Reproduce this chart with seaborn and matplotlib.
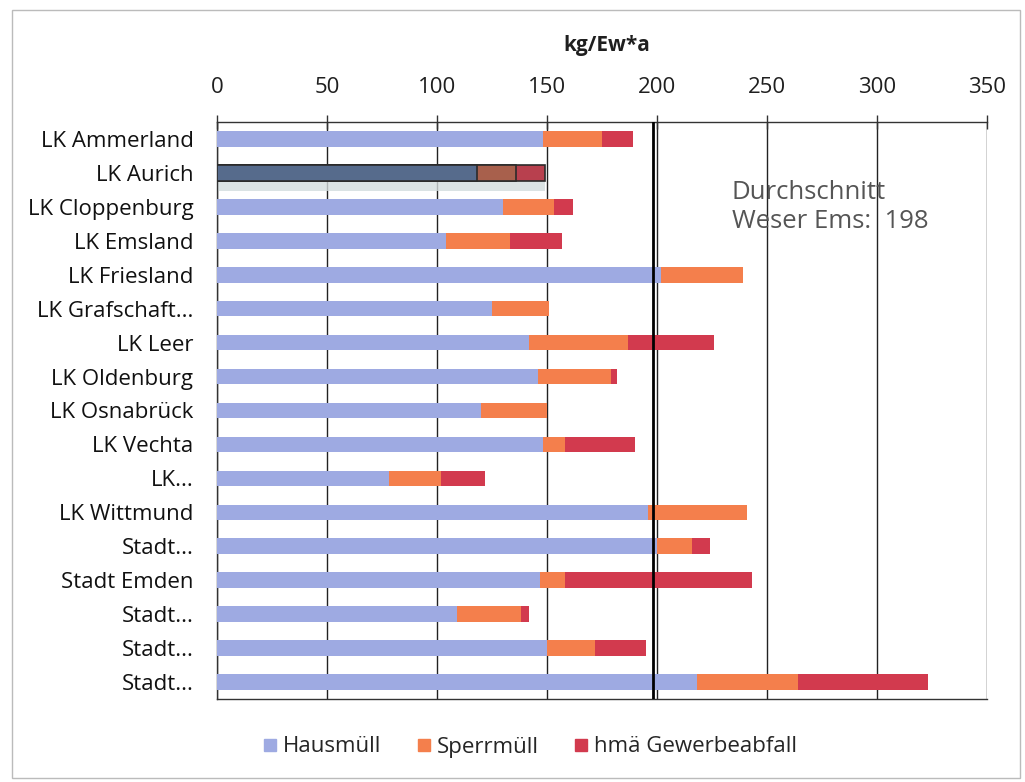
import numpy as np
import pandas as pd
import matplotlib.pyplot as plt
import seaborn as sns
from matplotlib.lines import Line2D
from matplotlib.patches import Rectangle

# -- data (kg per inhabitant and year)
regions = ['LK Ammerland', 'LK Aurich', 'LK Cloppenburg', 'LK Emsland', 'LK Friesland',
           'LK Grafschaft...', 'LK Leer', 'LK Oldenburg', 'LK Osnabrück', 'LK Vechta',
           'LK...', 'LK Wittmund', 'Stadt...', 'Stadt Emden', 'Stadt...', 'Stadt...',
           'Stadt...']
hausmuell = [148, 118, 130, 104, 202, 125, 142, 146, 120, 148, 78, 196, 200, 147, 109, 150, 218]
sperrmuell = [27, 18, 23, 29, 37, 26, 45, 33, 30, 10, 24, 45, 16, 11, 29, 22, 46]
gewerbe = [14, 13, 9, 24, 0, 0, 39, 3, 0, 32, 20, 0, 8, 85, 4, 23, 59]
series = ['Hausmüll', 'Sperrmüll', 'hmä Gewerbeabfall']
colors = ['#9eaae2', '#f47f4c', '#d23a4e']
aurich_colors = ['#566b8c', '#a8604c', '#b8404e']
average = 198

n = len(regions)
df = pd.DataFrame({'pos': [str(i) for i in range(n)], 'H': hausmuell, 'S': sperrmuell, 'G': gewerbe})
df['HS'] = df['H'] + df['S']
df['HSG'] = df['HS'] + df['G']

sns.set_style('white')
plt.rcParams['font.family'] = ['Open Sans', 'DejaVu Sans']

fig = plt.figure(figsize=(10.25, 7.82), dpi=100)
ax = fig.add_axes([217 / 1025, 1 - 699 / 782, 770 / 1025, 577 / 782])

# stacked bars: draw cumulative totals from back to front
for col, c in zip(['HSG', 'HS', 'H'], colors[::-1]):
    sns.barplot(data=df, x=col, y='pos', order=list(df['pos']), color=c, orient='h',
                width=0.46, saturation=1, linewidth=0, ax=ax, zorder=3)

# Aurich bar is shown highlighted/dark in the source
idx = regions.index('LK Aurich')
for layer, c in enumerate(aurich_colors[::-1]):
    p = ax.patches[layer * n + idx]
    p.set_facecolor(c)
    p.set_edgecolor('#2b2b2b')
    p.set_linewidth(1.2)
shadow = Rectangle((0, idx + 0.23), df['HSG'][idx], 0.3, facecolor='#d3dcde',
                   edgecolor='none', alpha=0.8, zorder=2)
ax.add_patch(shadow)

ax.set_xlim(0, 350)
ax.set_ylim(n - 0.5, -0.5)
ax.xaxis.tick_top()
ax.set_xticks(range(0, 351, 50))
ax.grid(axis='x', color='#222222', linewidth=1.0, zorder=1)
ax.axvline(average, color='black', linewidth=2.0, zorder=4)
ax.set_xlabel('')
ax.set_ylabel('')

ax.spines['right'].set_visible(False)
for s in ['top', 'left', 'bottom']:
    ax.spines[s].set_color('#333333')
    ax.spines[s].set_linewidth(1.0)

ax.tick_params(axis='x', which='major', direction='inout', length=10, width=1,
               color='#333333', labelsize=16, pad=12, labelcolor='#1f1f1f')
ax.set_yticks(range(n))
ax.set_yticklabels(regions)
ax.tick_params(axis='y', which='major', length=0, pad=17, labelsize=16, labelcolor='#111111')
ax.set_yticks(np.arange(-0.5, n, 1), minor=True)
ax.tick_params(axis='y', which='minor', direction='out', length=5, width=1, color='#333333')

fig.text(607 / 1025, 1 - 46 / 782, 'kg/Ew*a', ha='center', va='center', fontsize=15,
         fontweight='bold', color='#1f1f1f')
ax.text(234, 2.0, 'Durchschnitt\nWeser Ems:  198', ha='left', va='center', fontsize=18.5,
        color='#555555', linespacing=1.2, zorder=5)

handles = [Line2D([0], [0], marker='s', linestyle='none', markersize=9,
                  markerfacecolor=c, markeredgecolor=c) for c in colors]
fig.legend(handles, series, loc='center', bbox_to_anchor=(528 / 1025, 1 - 747 / 782),
           ncol=3, frameon=False, fontsize=16, handletextpad=0.1, handlelength=1.0,
           columnspacing=1.4)

fig.add_artist(Rectangle((12 / 1025, 1 - 778 / 782), 1008 / 1025, 768 / 782,
                         transform=fig.transFigure, fill=False, edgecolor='#bbbbbb',
                         linewidth=1.0))

fig.savefig('out.png', dpi=100)
